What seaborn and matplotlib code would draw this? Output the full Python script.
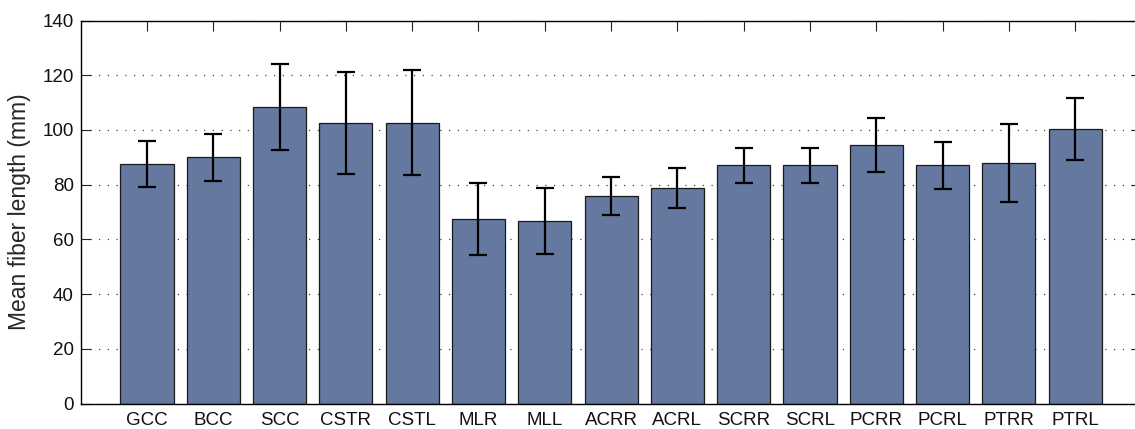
import matplotlib
matplotlib.use("Agg")
import matplotlib.pyplot as plt
import seaborn as sns
import numpy as np
import pandas as pd

categories = ["GCC", "BCC", "SCC", "CSTR", "CSTL", "MLR", "MLL", "ACRR",
              "ACRL", "SCRR", "SCRL", "PCRR", "PCRL", "PTRR", "PTRL"]
means = [87.5, 90.0, 108.4, 102.5, 102.6, 67.5, 66.8, 75.8,
         78.8, 87.1, 87.1, 94.4, 87.1, 87.8, 100.3]
err_upper = [96.1, 98.6, 124.1, 121.0, 121.8, 80.6, 78.9, 82.9,
             86.0, 93.5, 93.5, 104.2, 95.5, 102.2, 111.5]
err_lower = [79.1, 81.2, 92.8, 84.0, 83.6, 54.4, 54.6, 68.8,
             71.6, 80.6, 80.7, 84.5, 78.5, 73.5, 89.0]
yticks = [0, 20, 40, 60, 80, 100, 120, 140]

sns.set_style("white")
plt.rcParams['font.family'] = ['Liberation Sans', 'DejaVu Sans']

df = pd.DataFrame({"region": categories, "mean": means})

fig = plt.figure(figsize=(11.35, 4.29), dpi=100)
ax = fig.add_axes([80.7 / 1135, 25.5 / 429, 1060.8 / 1135, 383 / 429])

sns.barplot(data=df, x="region", y="mean", order=categories, color="#6478A0",
            saturation=1, width=0.8, edgecolor="#1a1a1a", linewidth=0.9,
            errorbar=None, ax=ax, zorder=2)

pos = np.arange(len(categories))
m = np.array(means)
lo = m - np.array(err_lower)
hi = np.array(err_upper) - m
ax.errorbar(pos, m, yerr=[lo, hi], fmt="none", ecolor="black",
            elinewidth=1.6, capsize=6.5, capthick=1.6, zorder=3)

ax.set_xlim(-1, 15)
ax.set_ylim(0, 140)
ax.set_yticks(yticks)
ax.set_xlabel("")
ax.set_ylabel("Mean fiber length (mm)", fontsize=16.5, labelpad=8)
ax.yaxis.grid(True, linestyle=(0, (1, 6)), color="#444444", linewidth=0.9, zorder=0)
ax.xaxis.grid(False)
ax.set_axisbelow(True)

for s in ax.spines.values():
    s.set_visible(True)
    s.set_color("black")
    s.set_linewidth(1.0)

ax.tick_params(axis="both", direction="in", length=7, width=0.8, color="#222222",
               labelsize=13.5, top=True, right=True, bottom=True, left=True,
               labelcolor="#111111")
ax.tick_params(axis="x", pad=6)
ax.tick_params(axis="y", pad=5)

fig.savefig("out.png", dpi=100)
